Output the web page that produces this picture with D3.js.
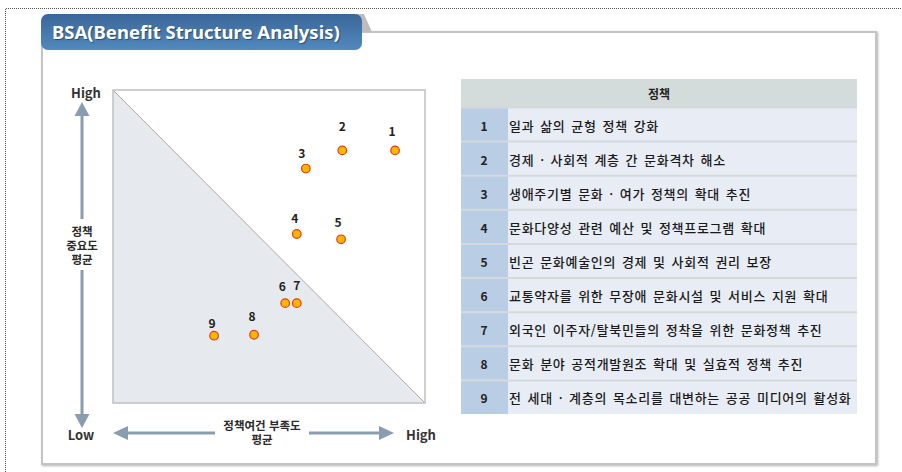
<!DOCTYPE html>
<html lang="ko">
<head>
<meta charset="UTF-8">
<title>BSA(Benefit Structure Analysis)</title>
<script src="https://d3js.org/d3.v7.min.js"></script>
<style>
  body { margin: 0; background: #fff; }
  svg { display: block; }
</style>
</head>
<body>
<svg id="chart" width="902" height="472"></svg>
<script>
// policy numbers and their scores (x: 정책여건 부족도, y: 정책 중요도)
var ids = [1, 2, 3, 4, 5, 6, 7, 8, 9];
var lackScore = [9.04, 7.35, 6.18, 5.89, 7.31, 5.52, 5.89, 4.52, 3.24];
var importanceScore = [8.07, 8.07, 7.49, 5.40, 5.23, 3.19, 3.19, 2.18, 2.15];
var policies = [
  "일과 삶의 균형 정책 강화",
  "경제 · 사회적 계층 간 문화격차 해소",
  "생애주기별 문화 · 여가 정책의 확대 추진",
  "문화다양성 관련 예산 및 정책프로그램 확대",
  "빈곤 문화예술인의 경제 및 사회적 권리 보장",
  "교통약자를 위한 무장애 문화시설 및 서비스 지원 확대",
  "외국인 이주자/탈북민들의 정착을 위한 문화정책 추진",
  "문화 분야 공적개발원조 확대 및 실효적 정책 추진",
  "전 세대 · 계층의 목소리를 대변하는 공공 미디어의 활성화"
];
var tableHeader = "정책";
var title = "BSA(Benefit Structure Analysis)";
var yAxisTitle = ["정책", "중요도", "평균"];
var xAxisTitle = ["정책여건 부족도", "평균"];

// label nudges (layout only)
var labelDx = [-3, 0, -4, -2, -3, -3, 0, -2, -2];
var labelDy = [-14, -19, -11, -11, -12, -12, -13, -14, -8];

var svg = d3.select("#chart");
var font = "'Noto Sans CJK KR', 'Noto Sans', sans-serif";

var defs = svg.append("defs");
var grad = defs.append("linearGradient").attr("id", "tabGrad")
  .attr("x1", 0).attr("y1", 0).attr("x2", 0).attr("y2", 1);
grad.append("stop").attr("offset", "0%").attr("stop-color", "#3b6699");
grad.append("stop").attr("offset", "100%").attr("stop-color", "#5289bd");

var shadow = defs.append("filter").attr("id", "shadow")
  .attr("x", "-5%").attr("y", "-5%").attr("width", "110%").attr("height", "110%");
shadow.append("feDropShadow").attr("dx", 1).attr("dy", 1).attr("stdDeviation", 1.2)
  .attr("flood-color", "#000").attr("flood-opacity", 0.3);

// outer dotted frame
svg.append("path")
  .attr("d", "M5.5,472 L5.5,8.5 L902,8.5")
  .attr("fill", "none").attr("stroke", "#555").attr("stroke-width", 1)
  .attr("stroke-dasharray", "1,1");

// panel
svg.append("rect")
  .attr("x", 42).attr("y", 32).attr("width", 834).attr("height", 432)
  .attr("fill", "#fff").attr("stroke", "#c4c4c4").attr("stroke-width", 2)
  .attr("filter", "url(#shadow)");

// tab fold shade
svg.append("path")
  .attr("d", "M356,14 L364,14 L372,32 L356,32 Z")
  .attr("fill", "#bdbdbd");

// title tab
svg.append("rect")
  .attr("x", 41).attr("y", 14).attr("width", 321).attr("height", 36)
  .attr("rx", 7).attr("fill", "url(#tabGrad)");
svg.append("text")
  .attr("x", 52).attr("y", 39)
  .attr("font-family", "'Noto Sans', 'Open Sans', sans-serif")
  .attr("font-size", 18.5).attr("font-weight", "bold")
  .attr("fill", "#fff")
  .style("text-shadow", "1px 1px 1px rgba(0,0,0,0.4)")
  .text(title);

// plot area
var plot = { left: 113, top: 90, right: 425, bottom: 403 };
var x = d3.scaleLinear().domain([0, 10]).range([plot.left, plot.right]);
var y = d3.scaleLinear().domain([0, 10]).range([plot.bottom, plot.top]);

svg.append("rect")
  .attr("x", x(0)).attr("y", y(10))
  .attr("width", x(10) - x(0)).attr("height", y(0) - y(10))
  .attr("fill", "#fff");
svg.append("path")
  .attr("d", "M" + x(0) + "," + y(10) + " L" + x(10) + "," + y(0) + " L" + x(0) + "," + y(0) + " Z")
  .attr("fill", "#e6e9ed");
svg.append("line")
  .attr("x1", x(0)).attr("y1", y(10)).attr("x2", x(10)).attr("y2", y(0))
  .attr("stroke", "#aaa").attr("stroke-width", 1);
svg.append("rect")
  .attr("x", x(0)).attr("y", y(10))
  .attr("width", x(10) - x(0)).attr("height", y(0) - y(10))
  .attr("fill", "none").attr("stroke", "#c0c0c0").attr("stroke-width", 1.5);

// points
var pts = ids.map(function (d, i) {
  return { id: d, x: lackScore[i], y: importanceScore[i], dx: labelDx[i], dy: labelDy[i] };
});
var g = svg.append("g");
g.selectAll("circle").data(pts).enter().append("circle")
  .attr("cx", function (d) { return x(d.x); })
  .attr("cy", function (d) { return y(d.y); })
  .attr("r", 4.3)
  .attr("fill", "#ffb400").attr("stroke", "#e0401a").attr("stroke-width", 1.2);
g.selectAll("text").data(pts).enter().append("text")
  .attr("x", function (d) { return x(d.x) + d.dx; })
  .attr("y", function (d) { return y(d.y) + d.dy; })
  .attr("text-anchor", "middle")
  .attr("font-family", font).attr("font-size", 12).attr("font-weight", "bold")
  .attr("fill", "#222")
  .text(function (d) { return d.id; });

// axis arrows
var arrowColor = "#8a9db0";
function vArrowHead(xc, tip, dir) {
  var b = tip + dir * 14;
  return "M" + xc + "," + tip + " L" + (xc - 7.5) + "," + b + " L" + (xc + 7.5) + "," + b + " Z";
}
function hArrowHead(yc, tip, dir) {
  var b = tip + dir * 15;
  return "M" + tip + "," + yc + " L" + b + "," + (yc - 7) + " L" + b + "," + (yc + 7) + " Z";
}
var ax = 82;
svg.append("path").attr("d", vArrowHead(ax, 102, 1)).attr("fill", arrowColor);
svg.append("line").attr("x1", ax).attr("y1", 115).attr("x2", ax).attr("y2", 219)
  .attr("stroke", arrowColor).attr("stroke-width", 3);
svg.append("line").attr("x1", ax).attr("y1", 270).attr("x2", ax).attr("y2", 414)
  .attr("stroke", arrowColor).attr("stroke-width", 3);
svg.append("path").attr("d", vArrowHead(ax, 428, -1)).attr("fill", arrowColor);

var ay = 433;
svg.append("path").attr("d", hArrowHead(ay, 113, 1)).attr("fill", arrowColor);
svg.append("line").attr("x1", 127).attr("y1", ay).attr("x2", 215).attr("y2", ay)
  .attr("stroke", arrowColor).attr("stroke-width", 3);
svg.append("line").attr("x1", 309).attr("y1", ay).attr("x2", 381).attr("y2", ay)
  .attr("stroke", arrowColor).attr("stroke-width", 3);
svg.append("path").attr("d", hArrowHead(ay, 394, -1)).attr("fill", arrowColor);

function label(tx, ty, s, size, weight) {
  svg.append("text").attr("x", tx).attr("y", ty)
    .attr("text-anchor", "middle").attr("dominant-baseline", "central")
    .attr("font-family", font).attr("font-size", size).attr("font-weight", weight)
    .attr("fill", "#333").text(s);
}
// multi-line label as one text element
function multiLabel(tx, ty, lines, lh) {
  var t = svg.append("text").attr("x", tx).attr("y", ty)
    .attr("text-anchor", "middle")
    .attr("font-family", font).attr("font-size", 11.5).attr("font-weight", "600")
    .attr("fill", "#2a2a2a");
  lines.forEach(function (s, i) {
    t.append("tspan").attr("x", tx).attr("dy", i === 0 ? 0 : lh).text(s);
  });
}
label(86, 92, "High", 13, "bold");
label(81, 434, "Low", 13, "bold");
label(421, 434, "High", 13, "bold");
multiLabel(82, 236, yAxisTitle, 13.8);
multiLabel(262, 430, xAxisTitle, 14);

// policy table
var tbl = { left: 461, right: 857, numRight: 508, top: 79, head: 28 };
var rowY = d3.scaleBand().domain(ids).range([tbl.top + tbl.head, 414]).paddingInner(0);

svg.append("rect")
  .attr("x", tbl.left).attr("y", tbl.top)
  .attr("width", tbl.right - tbl.left).attr("height", tbl.head)
  .attr("fill", "#d3dbdb");
svg.append("text")
  .attr("x", (tbl.left + tbl.right) / 2).attr("y", tbl.top + tbl.head / 2)
  .attr("text-anchor", "middle").attr("dominant-baseline", "central")
  .attr("font-family", font).attr("font-size", 12).attr("font-weight", "bold")
  .attr("fill", "#222").text(tableHeader);

var rows = svg.append("g").selectAll("g").data(ids).enter().append("g")
  .attr("transform", function (d) { return "translate(0," + rowY(d) + ")"; });
rows.append("rect")
  .attr("x", tbl.left).attr("y", 0)
  .attr("width", tbl.numRight - tbl.left).attr("height", rowY.bandwidth())
  .attr("fill", "#b9cde4");
rows.append("rect")
  .attr("x", tbl.numRight).attr("y", 0)
  .attr("width", tbl.right - tbl.numRight).attr("height", rowY.bandwidth())
  .attr("fill", "#e8edf5");
rows.append("line")
  .attr("x1", tbl.left).attr("x2", tbl.right).attr("y1", 0.5).attr("y2", 0.5)
  .attr("stroke", "#d5d8dc").attr("stroke-width", 2);
rows.append("text")
  .attr("x", 484).attr("y", rowY.bandwidth() / 2 + 1)
  .attr("text-anchor", "middle").attr("dominant-baseline", "central")
  .attr("font-family", font).attr("font-size", 12).attr("font-weight", "bold")
  .attr("fill", "#222").text(function (d) { return d; });
rows.append("text")
  .attr("x", 509).attr("y", rowY.bandwidth() / 2 + 1)
  .attr("dominant-baseline", "central")
  .attr("font-family", font).attr("font-size", 13).attr("font-weight", "500")
  .attr("letter-spacing", 0.7).attr("word-spacing", 1.5)
  .attr("fill", "#1a1a1a").text(function (d, i) { return policies[i]; });
</script>
</body>
</html>
